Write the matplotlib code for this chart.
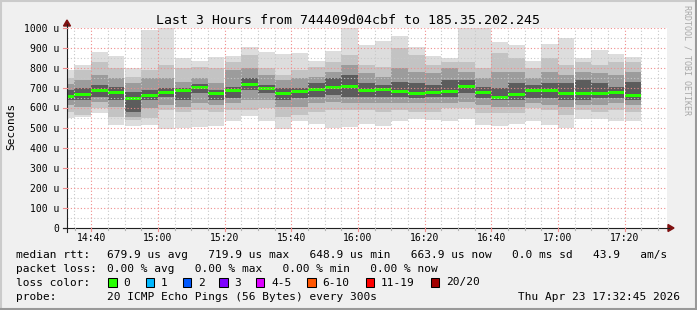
import matplotlib
matplotlib.use("Agg")
import matplotlib.pyplot as plt
from matplotlib.patches import Rectangle, Polygon
from matplotlib.lines import Line2D

# ---------------- data ----------------
title = "Last 3 Hours from 744409d04cbf to 185.35.202.245"
first_slot_min = 30        # first 5-min slot starts 14:30 (minutes after 14:00)
slot_len = 5
view_start, view_end = 32.75, 212.75   # 14:32:45 .. 17:32:45
median = [660, 670, 688, 676, 649, 663, 676, 686, 705, 672, 688, 720, 697, 675, 682,
          692, 702, 710, 688, 692, 683, 672, 676, 683, 707, 676, 653, 667, 688, 686,
          675, 672, 672, 676, 664]
ping_max = [791, 816, 882, 862, 800, 992, 1005, 850, 836, 856, 862, 906, 881, 868, 873,
            835, 886, 1005, 917, 933, 961, 903, 861, 850, 1005, 1005, 928, 917, 833, 921,
            950, 850, 888, 871, 855]
ping_hi2 = [748, 790, 828, 798, 756, 790, 815, 798, 806, 798, 831, 865, 798, 765, 790,
            806, 831, 865, 815, 806, 898, 865, 815, 830, 831, 798, 873, 848, 798, 848,
            815, 831, 815, 831, 831]
ping_hi3 = [720, 740, 765, 748, 723, 748, 748, 731, 748, 723, 790, 798, 765, 740, 748,
            756, 781, 815, 773, 756, 798, 781, 773, 798, 781, 748, 781, 781, 748, 781,
            765, 781, 773, 765, 781]
ping_hi4 = [690, 698, 715, 706, 681, 690, 698, 698, 718, 690, 706, 748, 715, 698, 698,
            723, 748, 765, 723, 715, 731, 723, 715, 740, 740, 706, 698, 723, 715, 723,
            723, 740, 723, 706, 731]
ping_lo4 = [640, 640, 657, 640, 581, 640, 657, 640, 673, 640, 648, 690, 673, 640, 648,
            657, 665, 657, 657, 657, 657, 648, 657, 657, 673, 648, 640, 640, 648, 648,
            640, 640, 648, 648, 640]
ping_lo3 = [615, 607, 630, 607, 556, 598, 615, 607, 623, 615, 623, 640, 640, 607, 607,
            623, 631, 623, 623, 623, 623, 623, 623, 623, 631, 615, 607, 607, 623, 615,
            607, 615, 615, 623, 615]
ping_lo2 = [580, 565, 598, 556, 540, 548, 590, 581, 590, 581, 590, 590, 598, 556, 565,
            581, 590, 590, 590, 581, 590, 581, 581, 598, 598, 573, 573, 573, 598, 590,
            565, 590, 581, 590, 581]
ping_min = [548, 556, 573, 516, 511, 516, 497, 500, 505, 508, 533, 561, 533, 495, 536,
            521, 500, 505, 521, 511, 533, 545, 540, 536, 545, 516, 511, 521, 536, 516,
            500, 545, 545, 533, 536]
y_ticks = [0, 100, 200, 300, 400, 500, 600, 700, 800, 900, 1000]
y_labels = ["0", "100 u", "200 u", "300 u", "400 u", "500 u", "600 u", "700 u",
            "800 u", "900 u", "1000 u"]
x_major = [40, 60, 80, 100, 120, 140, 160, 180, 200]
x_labels = ["14:40", "15:00", "15:20", "15:40", "16:00", "16:20", "16:40", "17:00", "17:20"]
stat_line1 = "679.9 us avg   719.9 us max   648.9 us min   663.9 us now   0.0 ms sd   43.9   am/s"
stat_line2 = "0.00 % avg   0.00 % max   0.00 % min   0.00 % now"
loss_labels = ["0", "1", "2", "3", "4-5", "6-10", "11-19", "20/20"]
loss_colors = ["#26ff00", "#00b8ff", "#0059ff", "#7e00ff", "#dd00ff", "#ff5500",
               "#ff0000", "#a10000"]
probe_text = "20 ICMP Echo Pings (56 Bytes) every 300s"
stamp = "Thu Apr 23 17:32:45 2026"

# ---------------- figure ----------------
W, H = 697, 310
L, R, T, B = 67, 667, 28, 228
MONO = "DejaVu Sans Mono"
fig = plt.figure(figsize=(W / 100, H / 100), dpi=100, facecolor="#f0f0f0")
ax = fig.add_axes([L / W, 1 - B / H, (R - L) / W, (B - T) / H])
ax.set_facecolor("white")
ax.set_xlim(view_start, view_end)
ax.set_ylim(0, 1000)
for s in ax.spines.values():
    s.set_visible(False)
ax.set_xticks([])
ax.set_yticks([])

xs = [first_slot_min + slot_len * i for i in range(len(median))]
layers = [(ping_min, ping_max, "#dddddd"), (ping_lo2, ping_hi2, "#c3c3c3"),
          (ping_lo3, ping_hi3, "#9c9c9c"), (ping_lo4, ping_hi4, "#5c5c5c")]
for lo, hi, c in layers:
    ax.bar(xs, [h - l for l, h in zip(lo, hi)], bottom=lo, width=slot_len, align="edge",
           color=c, linewidth=0, zorder=1)
mw = 15
ax.bar(xs, [mw] * len(median), bottom=[m - mw / 2 for m in median], width=slot_len,
       align="edge", color=loss_colors[0], linewidth=0, zorder=2)

dot = (0, (1, 2))
minor_x = [m for m in range(35, 215, 5) if m not in x_major]
for m in minor_x:
    ax.axvline(m, color="#c8c8c8", lw=0.8, ls=dot, zorder=3)
for v in range(50, 1000, 100):
    ax.axhline(v, color="#c8c8c8", lw=0.8, ls=dot, zorder=3)
for m in x_major:
    ax.axvline(m, color="#f08c8c", lw=0.8, ls=dot, zorder=4)
for v in y_ticks[1:]:
    ax.axhline(v, color="#f08c8c", lw=0.8, ls=dot, zorder=4)

# ---------------- helpers in pixel coords ----------------
def fx(x):
    return x / W
def fy(y):
    return 1 - y / H
def line(x0, y0, x1, y1, c, lw=0.75, ls="-"):
    fig.add_artist(Line2D([fx(x0), fx(x1)], [fy(y0), fy(y1)], color=c, lw=lw, ls=ls,
                          transform=fig.transFigure))
def text(x, y, s, **kw):
    kw.setdefault("family", MONO)
    kw.setdefault("fontsize", 8)
    kw.setdefault("color", "#000000")
    fig.text(fx(x), fy(y), s, transform=fig.transFigure, **kw)

def px_x(m):
    return L + (m - view_start) / (view_end - view_start) * (R - L)
def px_y(v):
    return B - v / 1000 * (B - T)

# axes lines and arrows
line(63, B, 669, B, "#202020", lw=0.8)
line(L, B + 4, L, 24, "#202020", lw=0.8)
fig.add_artist(Polygon([[fx(668), fy(B - 3.5)], [fx(668), fy(B + 3.5)], [fx(674), fy(B)]],
                       closed=True, color="#7f1010", transform=fig.transFigure))
fig.add_artist(Polygon([[fx(L - 3.5), fy(26)], [fx(L + 3.5), fy(26)], [fx(L), fy(20)]],
                       closed=True, color="#7f1010", transform=fig.transFigure))
# ticks
for v, lab in zip(y_ticks, y_labels):
    yy = px_y(v)
    line(63, yy, L, yy, "#f08c8c" if v else "#202020", lw=0.8)
    text(59, yy + 3.5, lab, ha="right", va="baseline", fontsize=7)
for m, lab in zip(x_major, x_labels):
    xx = px_x(m)
    line(xx, B, xx, B + 3, "#f08c8c", lw=0.8)
    text(xx, 241, lab, ha="center", va="baseline", fontsize=7)
for m in minor_x:
    xx = px_x(m)
    line(xx, B, xx, B + 2, "#b0b0b0", lw=0.8)

# titles
text(W / 2, 23.5, title, ha="center", va="baseline", fontsize=9.5)
text(11, 126, "Seconds", ha="center", va="center", rotation=90, fontsize=8)
text(687.5, 5, "RRDTOOL / TOBI OETIKER", ha="center", va="top", rotation=-90,
     fontsize=6, color="#a8a8a8")

# legend
text(16, 257.7, "median rtt:", va="baseline")
text(106.7, 257.7, stat_line1, va="baseline")
text(16, 271.5, "packet loss:", va="baseline")
text(107, 271.5, stat_line2, va="baseline")
text(16, 285.5, "loss color:", va="baseline")
box_x = [108.3, 145.7, 182.7, 219.3, 256, 307.3, 365.7, 430.7]
for bx, lab, c in zip(box_x, loss_labels, loss_colors):
    fig.add_artist(Rectangle((fx(bx), fy(286.7)), 8.3 / W, 8.3 / H, facecolor=c,
                             edgecolor="black", lw=0.75, transform=fig.transFigure))
    text(bx + 15, 285.5, lab, va="baseline")
text(16, 299.5, "probe:", va="baseline")
text(107, 299.5, probe_text, va="baseline")
text(680, 299.5, stamp, ha="right", va="baseline")

# 3D frame
line(0.5, 0.5, W, 0.5, "#cbcbcb", lw=1.5)
line(0.5, 0.5, 0.5, H, "#cbcbcb", lw=1.5)
line(0, H - 1, W, H - 1, "#999999", lw=1.5)
line(W - 1, 0, W - 1, H, "#999999", lw=1.5)

fig.savefig("out.png", dpi=100, facecolor=fig.get_facecolor())
